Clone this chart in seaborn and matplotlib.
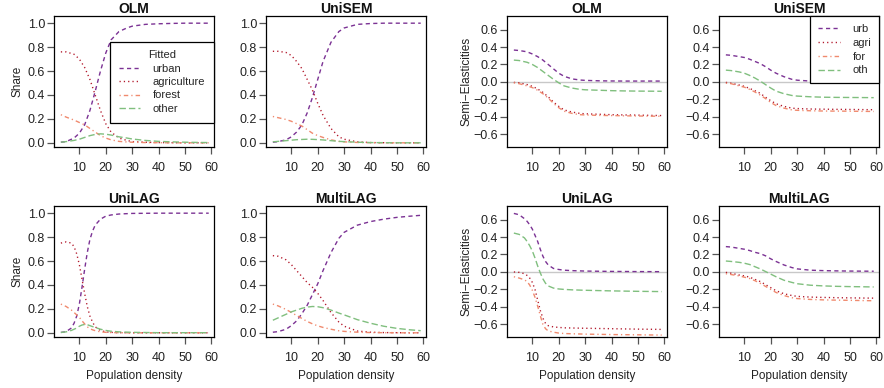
import numpy as np
import pandas as pd
import matplotlib
matplotlib.use("Agg")
import matplotlib.pyplot as plt
import seaborn as sns
from matplotlib.lines import Line2D

# ---- data ------------------------------------------------------------------
X_GRID = [3, 5, 8, 10, 12, 14, 16, 18, 20, 22, 25, 28, 30, 35, 40, 45, 50, 55, 59]
X_LAG = [3, 5, 7, 8, 9, 10, 11, 12, 13, 14, 15, 16, 18, 20, 22, 25, 30, 40, 50, 59]

SERIES = ["urban", "agriculture", "forest", "other"]
SHORT = ["urb", "agri", "for", "oth"]

# fitted shares
olm_urban = [0.005, 0.01, 0.04, 0.08, 0.15, 0.27, 0.43, 0.60, 0.75, 0.86, 0.93, 0.96, 0.975, 0.99, 0.995, 0.998, 1.0, 1.0, 1.0]
olm_agri = [0.76, 0.76, 0.74, 0.70, 0.63, 0.53, 0.40, 0.27, 0.16, 0.09, 0.04, 0.02, 0.01, 0.005, 0.002, 0.001, 0, 0, 0]
olm_forest = [0.235, 0.215, 0.19, 0.17, 0.15, 0.12, 0.09, 0.06, 0.04, 0.025, 0.012, 0.007, 0.005, 0.002, 0.001, 0, 0, 0, 0]
olm_other = [0.005, 0.01, 0.02, 0.03, 0.045, 0.06, 0.07, 0.075, 0.072, 0.065, 0.05, 0.04, 0.032, 0.02, 0.012, 0.008, 0.005, 0.003, 0.002]

sem_urban = [0.005, 0.01, 0.025, 0.05, 0.09, 0.15, 0.25, 0.38, 0.53, 0.68, 0.84, 0.93, 0.96, 0.99, 0.997, 1.0, 1.0, 1.0, 1.0]
sem_agri = [0.765, 0.765, 0.755, 0.73, 0.68, 0.62, 0.53, 0.44, 0.33, 0.23, 0.12, 0.05, 0.03, 0.008, 0.002, 0.001, 0, 0, 0]
sem_forest = [0.22, 0.21, 0.195, 0.18, 0.16, 0.14, 0.11, 0.08, 0.06, 0.045, 0.025, 0.012, 0.008, 0.003, 0.001, 0, 0, 0, 0]
sem_other = [0.008, 0.012, 0.018, 0.022, 0.026, 0.028, 0.03, 0.029, 0.027, 0.024, 0.018, 0.012, 0.01, 0.005, 0.002, 0.001, 0, 0, 0]

lag_urban = [0.003, 0.01, 0.04, 0.08, 0.14, 0.24, 0.38, 0.53, 0.67, 0.78, 0.85, 0.9, 0.95, 0.975, 0.985, 0.993, 0.998, 1.0, 1.0, 1.0]
lag_agri = [0.75, 0.76, 0.75, 0.72, 0.66, 0.57, 0.45, 0.33, 0.22, 0.14, 0.09, 0.05, 0.02, 0.008, 0.004, 0.001, 0, 0, 0, 0]
lag_forest = [0.24, 0.22, 0.19, 0.17, 0.15, 0.13, 0.1, 0.075, 0.05, 0.035, 0.025, 0.018, 0.008, 0.004, 0.002, 0.001, 0, 0, 0, 0]
lag_other = [0.003, 0.008, 0.02, 0.03, 0.04, 0.055, 0.065, 0.07, 0.068, 0.06, 0.052, 0.045, 0.03, 0.02, 0.013, 0.008, 0.004, 0.001, 0.001, 0.001]

mlag_urban = [0.005, 0.01, 0.03, 0.06, 0.1, 0.16, 0.23, 0.32, 0.41, 0.52, 0.67, 0.79, 0.84, 0.9, 0.93, 0.95, 0.965, 0.975, 0.982]
mlag_agri = [0.645, 0.64, 0.61, 0.57, 0.52, 0.47, 0.42, 0.38, 0.33, 0.27, 0.17, 0.09, 0.055, 0.015, 0.005, 0.002, 0.001, 0, 0]
mlag_forest = [0.24, 0.225, 0.195, 0.17, 0.145, 0.12, 0.095, 0.075, 0.058, 0.045, 0.03, 0.017, 0.012, 0.005, 0.002, 0.001, 0, 0, 0]
mlag_other = [0.105, 0.125, 0.155, 0.175, 0.19, 0.205, 0.215, 0.22, 0.218, 0.21, 0.19, 0.165, 0.15, 0.11, 0.08, 0.055, 0.037, 0.025, 0.018]

# semi-elasticities
olm_se_urb = [0.365, 0.36, 0.345, 0.32, 0.29, 0.25, 0.2, 0.15, 0.1, 0.065, 0.035, 0.022, 0.018, 0.013, 0.011, 0.01, 0.01, 0.01, 0.01]
olm_se_agri = [-0.005, -0.01, -0.03, -0.05, -0.08, -0.12, -0.17, -0.23, -0.28, -0.32, -0.345, -0.36, -0.365, -0.37, -0.375, -0.378, -0.38, -0.383, -0.385]
olm_se_for = [-0.01, -0.02, -0.045, -0.065, -0.095, -0.135, -0.185, -0.245, -0.295, -0.335, -0.36, -0.375, -0.378, -0.383, -0.385, -0.388, -0.39, -0.392, -0.393]
olm_se_oth = [0.25, 0.245, 0.225, 0.2, 0.165, 0.12, 0.075, 0.03, -0.01, -0.045, -0.07, -0.085, -0.09, -0.095, -0.1, -0.103, -0.105, -0.106, -0.107]

sem_se_urb = [0.31, 0.305, 0.29, 0.28, 0.26, 0.235, 0.21, 0.175, 0.135, 0.1, 0.06, 0.03, 0.02, 0.01, 0.005, 0.003, 0.002, 0.001, 0.001]
sem_se_agri = [-0.005, -0.015, -0.035, -0.05, -0.075, -0.1, -0.13, -0.175, -0.215, -0.25, -0.28, -0.3, -0.305, -0.31, -0.312, -0.314, -0.315, -0.317, -0.318]
sem_se_for = [-0.015, -0.02, -0.045, -0.06, -0.085, -0.115, -0.15, -0.19, -0.235, -0.27, -0.3, -0.32, -0.325, -0.33, -0.333, -0.334, -0.335, -0.337, -0.338]
sem_se_oth = [0.135, 0.13, 0.115, 0.1, 0.075, 0.045, 0.01, -0.03, -0.07, -0.105, -0.135, -0.155, -0.162, -0.17, -0.175, -0.177, -0.178, -0.179, -0.18]

lag_se_urb = [0.67, 0.655, 0.61, 0.58, 0.54, 0.49, 0.42, 0.35, 0.26, 0.18, 0.12, 0.08, 0.04, 0.028, 0.02, 0.015, 0.01, 0.006, 0.004, 0.003]
lag_se_agri = [0.0, -0.005, -0.02, -0.04, -0.07, -0.12, -0.2, -0.32, -0.44, -0.53, -0.59, -0.615, -0.63, -0.635, -0.64, -0.642, -0.645, -0.65, -0.655, -0.658]
lag_se_for = [-0.055, -0.07, -0.09, -0.11, -0.15, -0.21, -0.29, -0.39, -0.5, -0.6, -0.65, -0.675, -0.69, -0.7, -0.705, -0.708, -0.712, -0.717, -0.72, -0.723]
lag_se_oth = [0.445, 0.43, 0.39, 0.35, 0.3, 0.24, 0.16, 0.07, -0.01, -0.08, -0.13, -0.16, -0.185, -0.195, -0.2, -0.205, -0.21, -0.217, -0.222, -0.225]

mlag_se_urb = [0.29, 0.285, 0.27, 0.26, 0.245, 0.225, 0.21, 0.185, 0.15, 0.12, 0.08, 0.05, 0.035, 0.02, 0.015, 0.012, 0.01, 0.009, 0.008]
mlag_se_agri = [-0.005, -0.015, -0.035, -0.045, -0.06, -0.085, -0.11, -0.145, -0.18, -0.215, -0.25, -0.27, -0.28, -0.288, -0.292, -0.295, -0.297, -0.299, -0.3]
mlag_se_for = [-0.02, -0.03, -0.045, -0.06, -0.075, -0.1, -0.13, -0.165, -0.2, -0.235, -0.27, -0.295, -0.305, -0.315, -0.32, -0.323, -0.325, -0.328, -0.33]
mlag_se_oth = [0.125, 0.12, 0.11, 0.1, 0.085, 0.06, 0.035, 0.005, -0.025, -0.055, -0.095, -0.12, -0.135, -0.152, -0.16, -0.165, -0.168, -0.17, -0.172]

SHARE_TICKS = [0.0, 0.2, 0.4, 0.6, 0.8, 1.0]
SEMI_TICKS = [-0.6, -0.4, -0.2, 0.0, 0.2, 0.4, 0.6]
X_TICKS = [10, 20, 30, 40, 50, 60]

COLORS = {"urban": "#7B3294", "agriculture": "#B2182B", "forest": "#F08A6E", "other": "#80BF7E"}
DASHES = {"urban": (3.0, 2.4), "agriculture": (0.9, 2.2), "forest": (0.9, 2.2, 3.2, 2.2), "other": (4.6, 2.2)}

W, H = 884, 388


def long_df(x, cols):
    rows = []
    for name, vals in zip(SERIES, cols):
        for xi, v in zip(x, vals):
            rows.append((xi, v, name))
    return pd.DataFrame(rows, columns=["x", "value", "series"])


def add_ax(fig, l, t, r, b):
    return fig.add_axes([l / W, 1 - b / H, (r - l) / W, (b - t) / H])


sns.set_style("ticks")
plt.rcParams["lines.scale_dashes"] = False
plt.rcParams["font.family"] = ["Liberation Sans", "DejaVu Sans"]

fig = plt.figure(figsize=(W / 100, H / 100), dpi=100)

# (title, x, cols, kind, box in px: left, top, right, bottom, legend)
panels = [
    ("OLM", X_GRID, [olm_urban, olm_agri, olm_forest, olm_other], "share", (54, 16, 214, 147), "fitted"),
    ("UniSEM", X_GRID, [sem_urban, sem_agri, sem_forest, sem_other], "share", (266, 16, 426, 147), None),
    ("OLM", X_GRID, [olm_se_urb, olm_se_agri, olm_se_for, olm_se_oth], "semi", (507, 16, 667, 147), None),
    ("UniSEM", X_GRID, [sem_se_urb, sem_se_agri, sem_se_for, sem_se_oth], "semi", (719, 16, 879, 147), "short"),
    ("UniLAG", X_LAG, [lag_urban, lag_agri, lag_forest, lag_other], "share", (54, 206, 214, 337), None),
    ("MultiLAG", X_GRID, [mlag_urban, mlag_agri, mlag_forest, mlag_other], "share", (266, 206, 426, 337), None),
    ("UniLAG", X_LAG, [lag_se_urb, lag_se_agri, lag_se_for, lag_se_oth], "semi", (507, 206, 667, 337), None),
    ("MultiLAG", X_GRID, [mlag_se_urb, mlag_se_agri, mlag_se_for, mlag_se_oth], "semi", (719, 206, 879, 337), None),
]

for i, (title, x, cols, kind, box, leg) in enumerate(panels):
    ax = add_ax(fig, *box)
    if kind == "semi":
        ax.axhline(0, color="#C8C8C8", lw=1.0, zorder=1)
    df = long_df(x, cols)
    sns.lineplot(data=df, x="x", y="value", hue="series", style="series",
                 hue_order=SERIES, style_order=SERIES, palette=COLORS, dashes=DASHES,
                 estimator=None, errorbar=None, lw=1.0, legend=False, ax=ax)

    ax.set_xlim(0.4, 61.0)
    ax.set_xticks(X_TICKS)
    ax.set_xticklabels([str(t) for t in X_TICKS])
    if kind == "share":
        ax.set_ylim(-0.035, 1.06)
        ax.set_yticks(SHARE_TICKS)
        ax.set_yticklabels([f"{t:.1f}" for t in SHARE_TICKS])
    else:
        ax.set_ylim(-0.745, 0.755)
        ax.set_yticks(SEMI_TICKS)
        ax.set_yticklabels([f"{t:.1f}".replace("-", "\u2212") for t in SEMI_TICKS])

    for sp in ax.spines.values():
        sp.set_visible(True)
        sp.set_color("black")
        sp.set_linewidth(0.9)
    ax.tick_params(axis="both", direction="out", length=5, width=0.9, color="#555555",
                   labelsize=9, labelcolor="#222222")
    ax.tick_params(axis="x", pad=5.5)
    ax.tick_params(axis="y", pad=1.5)

    ax.set_title(title, fontsize=10, fontweight="bold", pad=1.5, color="#111111")

    # axis labels (R style: only on the first column of each half, x label on the bottom row)
    if box[0] == 54:
        ax.set_ylabel("Share", fontsize=8.5, color="#222222")
        ax.yaxis.set_label_coords(-0.19, 0.5)
    elif box[0] == 507:
        ax.set_ylabel("Semi\u2212Elasticities", fontsize=8.5, color="#222222")
        ax.yaxis.set_label_coords(-0.215, 0.5)
    else:
        ax.set_ylabel("")
    if box[1] == 206:
        ax.set_xlabel("Population density", fontsize=8.5, color="#222222")
        ax.xaxis.set_label_coords(0.5, -0.255)
    else:
        ax.set_xlabel("")

    if leg is not None:
        handles = [Line2D([0], [0], color=COLORS[s], lw=1.0, linestyle=(0, DASHES[s])) for s in SERIES]
        if leg == "fitted":
            lg = ax.legend(handles, SERIES, title="Fitted", loc="upper right", bbox_to_anchor=(1.0, 0.805),
                           fontsize=8, title_fontsize=8, frameon=True, fancybox=False, framealpha=1,
                           edgecolor="black", borderaxespad=0, handlelength=1.9, labelspacing=0.3,
                           borderpad=0.8, handletextpad=1.1)
        else:
            lg = ax.legend(handles, SHORT, loc="upper right", bbox_to_anchor=(1.0, 1.0),
                           fontsize=8, frameon=True, fancybox=False, framealpha=1,
                           edgecolor="black", borderaxespad=0, handlelength=2.0, labelspacing=0.35,
                           borderpad=0.7, handletextpad=1.1)
        lg.get_frame().set_linewidth(0.9)

plt.savefig("out.png", dpi=100)
